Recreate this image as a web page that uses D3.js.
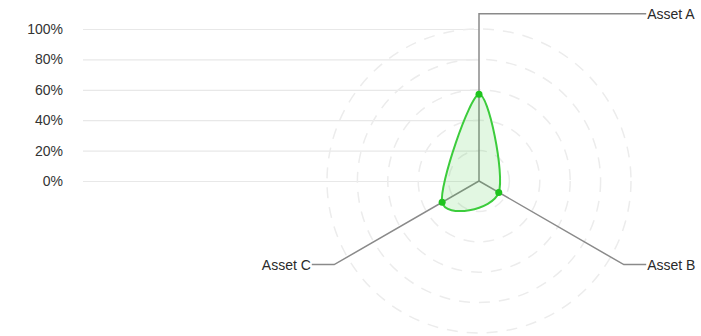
<!DOCTYPE html>
<html>
<head>
<meta charset="utf-8">
<script src="https://cdn.jsdelivr.net/npm/d3@7"></script>
<style>
  body { margin: 0; background: #fff; }
  svg { display: block; font-family: "Liberation Sans", Arial, Helvetica, sans-serif; }
</style>
</head>
<body>
<div id="chart"></div>
<script>
// chart data
const axisNames = ['Asset A', 'Asset B', 'Asset C']
const assetValues = [0.57, 0.15, 0.28]
const tickValues = [0, 0.2, 0.4, 0.6, 0.8, 1]
const ringValues = [0.2, 0.4, 0.6, 0.8, 1]

const width = 701
const height = 336
const cx = 479
const cy = 181
const radius = 152
const axisLeftX = 83

const svg = d3.select('#chart')
  .append('svg')
  .attr('width', width)
  .attr('height', height)

const rScale = d3.scaleLinear().domain([0, 1]).range([0, radius])
const yScale = d3.scaleLinear().domain([0, 1]).range([cy, cy - radius])

// left value axis with grid lines running to the centre
const yAxis = svg.append('g')
  .attr('transform', `translate(${axisLeftX},0)`)
  .call(d3.axisLeft(yScale)
    .tickValues(tickValues)
    .tickFormat(d3.format('.0%'))
    .tickSize(-(cx - axisLeftX))
    .tickPadding(20))

yAxis.select('.domain').remove()
yAxis.selectAll('.tick line')
  .attr('stroke', '#e8e8e8')
  .attr('stroke-width', 1.2)
yAxis.selectAll('.tick text')
  .attr('fill', '#333')
  .style('font-size', '14px')

const radar = svg.append('g')
  .attr('transform', `translate(${cx},${cy})`)

// dashed rings
radar.selectAll('.ring')
  .data(ringValues)
  .join('circle')
  .attr('class', 'ring')
  .attr('r', d => rScale(d))
  .attr('fill', 'none')
  .attr('stroke', '#ececec')
  .attr('stroke-width', 1.5)
  .attr('stroke-dasharray', '11,9')

const angleStep = 2 * Math.PI / axisNames.length
const axisLen = rScale(1.1)

// spokes with horizontal leaders to the labels
const spokes = radar.selectAll('.spoke')
  .data(axisNames)
  .join('g')
  .attr('class', 'spoke')

spokes.append('path')
  .attr('fill', 'none')
  .attr('stroke', '#8a8a8a')
  .attr('stroke-width', 1.5)
  .attr('d', (d, i) => {
    const a = i * angleStep
    const end = d3.pointRadial(a, axisLen)
    const side = Math.sin(a) >= -1e-6 ? 1 : -1
    return d3.line()([[0, 0], end, [side * axisLen, end[1]]])
  })

spokes.append('text')
  .attr('x', (d, i) => {
    const side = Math.sin(i * angleStep) >= -1e-6 ? 1 : -1
    return side * (axisLen + 1)
  })
  .attr('y', (d, i) => d3.pointRadial(i * angleStep, axisLen)[1])
  .attr('dy', '0.35em')
  .attr('text-anchor', (d, i) => Math.sin(i * angleStep) >= -1e-6 ? 'start' : 'end')
  .attr('fill', '#2a2a2a')
  .style('font-size', '14px')
  .text(d => d)

// series area
const radarLine = d3.lineRadial()
  .angle((d, i) => i * angleStep)
  .radius(d => rScale(d))
  .curve(d3.curveCardinalClosed)

radar.append('path')
  .datum(assetValues)
  .attr('d', radarLine)
  .attr('fill', 'rgba(60, 200, 60, 0.15)')
  .attr('stroke', '#3ccc3c')
  .attr('stroke-width', 2)

radar.selectAll('.dot')
  .data(assetValues)
  .join('circle')
  .attr('class', 'dot')
  .attr('cx', (d, i) => d3.pointRadial(i * angleStep, rScale(d))[0])
  .attr('cy', (d, i) => d3.pointRadial(i * angleStep, rScale(d))[1])
  .attr('r', 3.5)
  .attr('fill', '#1ec41e')
</script>
</body>
</html>
